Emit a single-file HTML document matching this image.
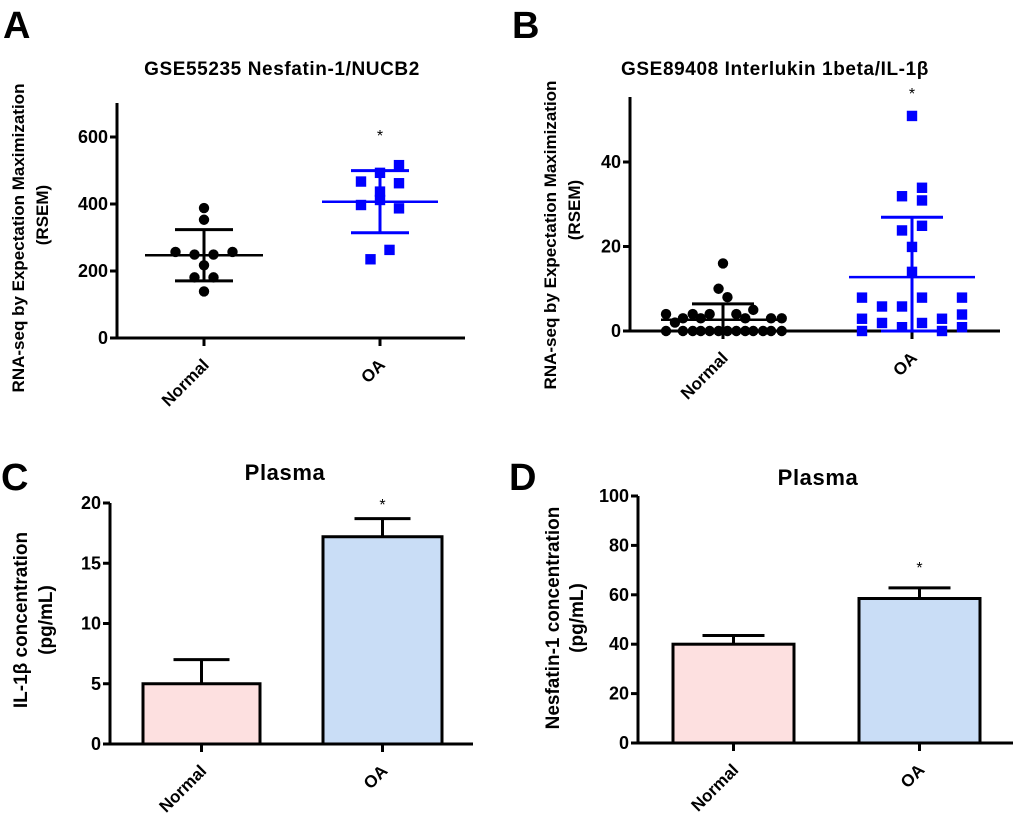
<!DOCTYPE html>
<html><head><meta charset="utf-8"><style>
body{margin:0;background:#fff;width:1020px;height:822px;overflow:hidden}
svg{display:block;font-family:"Liberation Sans",Arial,sans-serif}
text{font-weight:bold}
</style></head><body>
<svg id="fig" width="1020" height="822"></svg>
<script>
// ---- Data ----
const groups = ["Normal","OA"];
// Panel A
const aNormal = [388,353,257,257,249,249,217,181,181,139];
const aNormalSlot = [0,0,-3,3,-1,1,0,-1,1,0];
const aOA = [516,493,467,462,437,412,397,387,263,235];
const aOASlot = [2,0,-2,2,0,0,-2,2,1,-1];
const aTicks = [0,200,400,600];
// Panel B
const bNormal = [16,10,8,5,4,4,4,4,3,3,3,3,3,2,0,0,0,0,0,0,0,0,0,0,0,0,0];
const bNormalSlot = [0,-0.5,0.5,3.4,-6.4,-3.4,-1.5,1.5,-4.5,-2.5,2.5,5.4,6.6,-5.4,-6.4,-4.5,-3.4,-2.5,-1.5,-0.5,0.5,1.5,2.5,3.4,4.5,5.4,6.6];
const bOA = [50.9,31.9,33.9,30.9,23.8,24.9,19.9,14,7.9,5.8,5.8,7.9,7.9,2.9,1.9,0.9,1.9,2.9,3.9,0.9,0,0];
const bOASlot = [0,-0.5,0.5,0.5,-0.5,0.5,0,0,-2.5,-1.5,-0.5,0.5,2.5,-2.5,-1.5,-0.5,0.5,1.5,2.5,2.5,-2.5,1.5];
const bTicks = [0,20,40];
// Panel C
const cMeans = [5,17.2];
const cErr = [7,18.7];
const cTicks = [0,5,10,15,20];
// Panel D
const dMeans = [40,58.5];
const dErr = [43.5,62.8];
const dTicks = [0,20,40,60,80,100];

const svg = document.getElementById('fig');
const NS = 'http://www.w3.org/2000/svg';
function mk(tag, attrs, parent){
  const e = document.createElementNS(NS, tag);
  for (const k in attrs) e.setAttribute(k, attrs[k]);
  (parent||svg).appendChild(e); return e;
}
function txt(s, attrs, parent){ const t = mk('text', attrs, parent); t.textContent = s; return t; }
function scale(d0,d1,r0,r1){ return v => r0 + (v-d0)/(d1-d0)*(r1-r0); }

function axes(g, x0, yTop, y0, xEnd, ticks, y, centers){
  let e = mk('line',{x1:x0,y1:yTop,x2:x0,y2:y0+1.5,stroke:'#000','stroke-width':3},g);
   
  e = mk('line',{x1:x0-1.5,y1:y0,x2:xEnd,y2:y0,stroke:'#000','stroke-width':3},g);
   
  ticks.forEach(t=>{
    mk('line',{x1:x0-7,y1:y(t),x2:x0,y2:y(t),stroke:'#000','stroke-width':3},g);
    const l = txt(String(t),{x:x0-9,y:y(t)+6,'text-anchor':'end','font-size':18},g);
     
  });
  centers.forEach((c,i)=>{
    mk('line',{x1:c,y1:y0,x2:c,y2:y0+8,stroke:'#000','stroke-width':3},g);
    const ax = c+6, ay = y0+28;
    const l = txt(groups[i],{x:ax,y:ay,'text-anchor':'end','font-size':17,transform:`rotate(-45 ${ax} ${ay})`},g);
     
  });
}
function ylabel(g, x1, x2, cy1, cy2, l1, l2, fs){
  let t = txt(l1,{x:x1,y:cy1,'text-anchor':'middle','font-size':fs,transform:`rotate(-90 ${x1} ${cy1})`},g);
   
  t = txt(l2,{x:x2,y:cy2,'text-anchor':'middle','font-size':fs,transform:`rotate(-90 ${x2} ${cy2})`},g);
   
}
function stats(a){ const m=a.reduce((s,v)=>s+v,0)/a.length; const sd=Math.sqrt(a.reduce((s,v)=>s+(v-m)*(v-m),0)/(a.length-1)); return [m,sd]; }
function scatterGroup(g, vals, slots, cx, slotW, y, color, shape, meanHalf, capHalf){
  const [m,sd] = stats(vals);
  let e = mk('line',{x1:cx,y1:y(m+sd),x2:cx,y2:y(Math.max(m-sd,0)),stroke:color,'stroke-width':3},g);
   
  e = mk('line',{x1:cx-capHalf,y1:y(m+sd),x2:cx+capHalf,y2:y(m+sd),stroke:color,'stroke-width':3},g);
   
  e = mk('line',{x1:cx-capHalf,y1:y(Math.max(m-sd,0)),x2:cx+capHalf,y2:y(Math.max(m-sd,0)),stroke:color,'stroke-width':3},g);
   
  e = mk('line',{x1:cx-meanHalf,y1:y(m),x2:cx+meanHalf,y2:y(m),stroke:color,'stroke-width':2.5},g);
   
  vals.forEach((v,i)=>{
    const px = cx + slots[i]*slotW, py = y(v);
    let p;
    if (shape==='circle') p = mk('circle',{cx:px,cy:py,r:5.2,fill:color},g);
    else p = mk('rect',{x:px-5.2,y:py-5.2,width:10.4,height:10.4,fill:color},g);
     
  });
}
function panelLetter(s,x,y){ const t=txt(s,{x:x,y:y,'font-size':38});   }
function title(g,s,x,y,fs){ const t=txt(s,{x:x,y:y,'text-anchor':'middle','font-size':fs,'letter-spacing':0.6},g);   }
function star(g,x,y){ const t=txt('*',{x:x,y:y+8,'text-anchor':'middle','font-size':16,style:'font-weight:normal'},g);   }

// Panel A
{
  const g = mk('g',{});  
  panelLetter('A',3,38);
  const y = scale(0,600,338,137);
  const cx=[204,380];
  title(g,'GSE55235 Nesfatin-1/NUCB2',282,75,19);
  axes(g,117,103,338,465,aTicks,y,cx);
  ylabel(g,24,48,238,215,'RNA-seq by Expectation Maximization','(RSEM)',17);
  scatterGroup(g,aNormal,aNormalSlot,cx[0],9.5,y,'#000','circle',59,29);
  scatterGroup(g,aOA,aOASlot,cx[1],9.5,y,'#0000ff','square',58,29);
  star(g,380,133);
}
// Panel B
{
  const g = mk('g',{});  
  panelLetter('B',512,38);
  const y = scale(0,40,331,162);
  const cx=[723,912];
  title(g,'GSE89408 Interlukin 1beta/IL-1β',775,75,19);
  axes(g,630,97,331,1000,bTicks,y,cx);
  ylabel(g,556,580,235,210,'RNA-seq by Expectation Maximization','(RSEM)',17);
  scatterGroup(g,bNormal,bNormalSlot,cx[0],8.9,y,'#000','circle',62,31);
  scatterGroup(g,bOA,bOASlot,cx[1],20,y,'#0000ff','square',63,31);
  star(g,912,91);
}
function barPanel(g, means, errs, ticks, y, x0, yTop, y0, xEnd, lefts, rights, capHalf){
  const cx = lefts.map((l,i)=>(l+rights[i])/2);
  const fills=['#fde0e0','#c9ddf6'];
  means.forEach((m,i)=>{
    let e = mk('line',{x1:cx[i],y1:y(errs[i]),x2:cx[i],y2:y(m),stroke:'#000','stroke-width':3},g);
     
    e = mk('line',{x1:cx[i]-capHalf,y1:y(errs[i]),x2:cx[i]+capHalf,y2:y(errs[i]),stroke:'#000','stroke-width':3},g);
     
    e = mk('rect',{x:lefts[i],y:y(m),width:rights[i]-lefts[i],height:y0-y(m),fill:fills[i],stroke:'#000','stroke-width':3},g);
     
  });
  axes(g,x0,yTop,y0,xEnd,ticks,y,cx);
  return cx;
}
// Panel C
{
  const g = mk('g',{});  
  panelLetter('C',1,490);
  title(g,'Plasma',285,480,22);
  const y = scale(0,20,744,503);
  const cx = barPanel(g,cMeans,cErr,cTicks,y,110,503,744,473,[143,323],[260,442],28);
  ylabel(g,27,52,620,620,'IL-1β concentration','(pg/mL)',19);
  star(g,cx[1],502);
}
// Panel D
{
  const g = mk('g',{});  
  panelLetter('D',509,490);
  title(g,'Plasma',818,485,22);
  const y = scale(0,100,743,496);
  const cx = barPanel(g,dMeans,dErr,dTicks,y,638,496,743,1013,[673,859],[794,980],31);
  ylabel(g,559,583,618,618,'Nesfatin-1 concentration','(pg/mL)',19);
  star(g,cx[1],565);
}
</script>
</body></html>
